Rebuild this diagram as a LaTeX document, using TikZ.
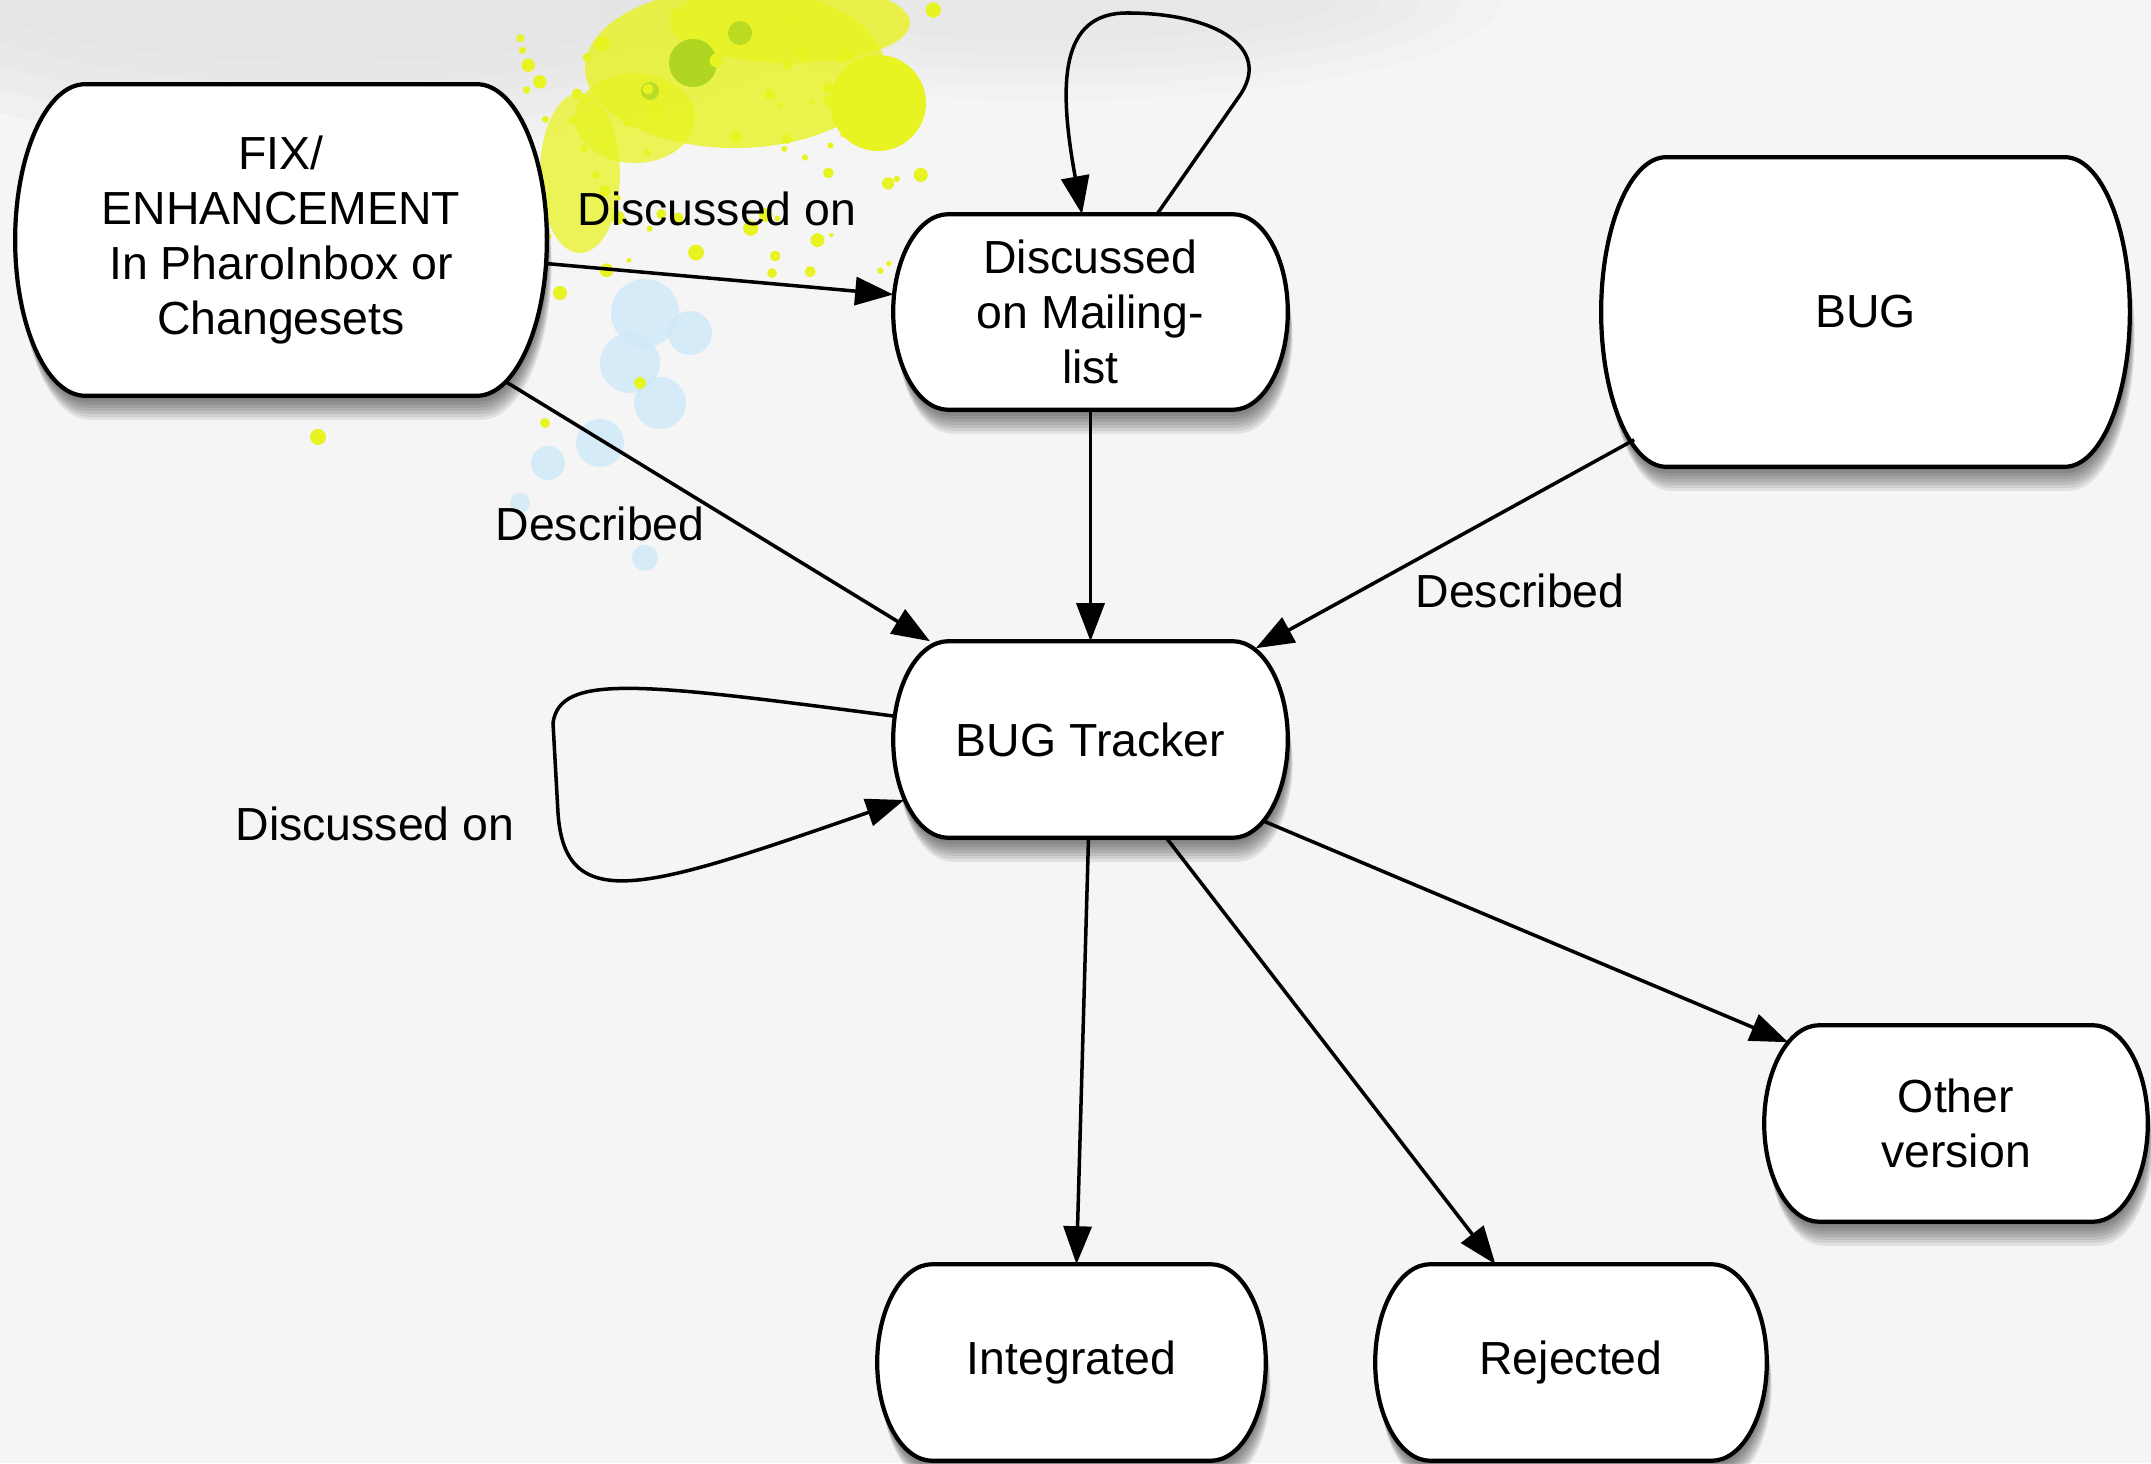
\documentclass[tikz,border=0pt]{standalone}
\usepackage{fontspec}
\setmainfont{Liberation Sans}
\usetikzlibrary{arrows.meta,calc}

\pgfdeclarelayer{background}
\pgfsetlayers{background,main}

\definecolor{paperGray}{RGB}{245,245,245}
\definecolor{cloudGray}{RGB}{222,222,222}
\definecolor{splashYellow}{RGB}{232,243,34}
\definecolor{splashGreen}{RGB}{176,214,34}
\definecolor{splashBlue}{RGB}{206,233,248}

%% outline of a state: flat top and bottom, bulging sides
\newcommand{\capsulepath}[2]{%
  ($(#1.north west)+(#2,0)$) -- ($(#1.north east)+(-#2,0)$)
  .. controls ($(#1.north east)+(-0.45*#2,0)$) and ($(#1.north east)!0.45!(#1.east)$) .. (#1.east)
  .. controls ($(#1.south east)!0.45!(#1.east)$) and ($(#1.south east)+(-0.45*#2,0)$) .. ($(#1.south east)+(-#2,0)$)
  -- ($(#1.south west)+(#2,0)$)
  .. controls ($(#1.south west)+(0.45*#2,0)$) and ($(#1.south west)!0.45!(#1.west)$) .. (#1.west)
  .. controls ($(#1.north west)!0.45!(#1.west)$) and ($(#1.north west)+(0.45*#2,0)$) .. ($(#1.north west)+(#2,0)$)
  -- cycle}

\begin{document}
\begin{tikzpicture}
[x=0.01cm,y=0.01cm,
  stateDecorate/.style={rectangle,inner sep=0pt,align=center,
    font={\fontsize{13.2}{15.6}\selectfont}},
  labelDecorate/.style={inner sep=1pt,font={\fontsize{13.2}{15.6}\selectfont}},
  lineDecorate/.style={-{Triangle[length=0.38cm,width=0.28cm]},line width=1pt}]
\useasboundingbox (0,0) rectangle (2151,1463);

%% nodes or vertices
\node (fix) at (281,1223) [stateDecorate,minimum width=5.30cm,minimum height=3.10cm]
  {FIX/\\ENHANCEMENT\\In PharoInbox or\\Changesets};
\node (ml) at (1090.5,1151) [stateDecorate,minimum width=3.93cm,minimum height=1.94cm]
  {Discussed\\on Mailing-\\list};
\node (bug) at (1865.5,1151) [stateDecorate,minimum width=5.27cm,minimum height=3.08cm] {BUG};
\node (trk) at (1090.5,723.5) [stateDecorate,minimum width=3.93cm,minimum height=1.95cm] {BUG Tracker};
\node (oth) at (1956,339.5) [stateDecorate,minimum width=3.82cm,minimum height=1.95cm] {Other\\version};
\node (int) at (1071.5,100.5) [stateDecorate,minimum width=3.87cm,minimum height=1.95cm] {Integrated};
\node (rej) at (1571,100.5) [stateDecorate,minimum width=3.90cm,minimum height=1.95cm] {Rejected};

%% paper, splashes and state outlines
\begin{pgfonlayer}{background}
\fill[paperGray] (0,0) rectangle (2151,1463);
\foreach \k in {1,...,5} {
  \fill[cloudGray,opacity=0.18] (330,1463) ellipse ({300+40*\k} and {40+22*\k});
  \fill[cloudGray,opacity=0.12] (1050,1463) ellipse ({250+40*\k} and {25+15*\k});
}
\foreach \x/\y/\r in {645/1150/34, 630/1100/30, 660/1060/26, 600/1020/24, 548/1000/17,
  690/1130/22, 645/905/13, 520/960/10} {
  \fill[splashBlue,opacity=0.8] (\x,\y) circle (\r);
}
\fill[splashYellow,opacity=0.8] (735,1395) ellipse (150 and 80);
\fill[splashYellow,opacity=0.8] (790,1440) ellipse (120 and 40);
\fill[splashYellow,opacity=0.75] (580,1290) ellipse (40 and 80);
\fill[splashYellow,opacity=0.75] (635,1345) ellipse (60 and 45);
\fill[splashYellow] (878,1360) circle (48);
\fill[splashGreen] (693,1400) circle (24);
\fill[splashGreen,opacity=0.8] (740,1430) circle (12);
\fill[splashGreen,opacity=0.8] (650,1372) circle (9);
\pgfmathsetseed{11}
\foreach \k in {1,...,70} {
  \pgfmathsetmacro{\px}{520+420*rnd}
  \pgfmathsetmacro{\py}{1180+280*rnd}
  \pgfmathsetmacro{\pr}{2+6*rnd}
  \fill[splashYellow] (\px,\py) circle (\pr);
}
\foreach \x/\y/\r in {318/1026/8, 545/1040/5, 640/1080/6, 560/1170/7} {
  \fill[splashYellow] (\x,\y) circle (\r);
}
\foreach \nodename/\bulge in {fix/70, ml/55, bug/65, trk/55, oth/55, int/55, rej/55} {
  \foreach \dx/\dy in {0.6/-3, 1.2/-6, 1.8/-9, 2.4/-12, 3/-15, 3.6/-18, 4.2/-21, 4.8/-24} {
    \begin{scope}[transform canvas={shift={(\dx,\dy)}}]
      \fill[black,opacity=0.08] \capsulepath{\nodename}{\bulge};
    \end{scope}
  }
  \filldraw[fill=white,draw=black,line width=1.2pt] \capsulepath{\nodename}{\bulge};
}
\end{pgfonlayer}

%% edges or lines
\draw[lineDecorate] (fix) -- (ml);
\draw[lineDecorate] ($(fix.south east)+(-41,14)$) -- (trk);
\draw[lineDecorate] (ml) -- (trk);
\draw[lineDecorate] ($(bug.south west)+(33,27)$) -- ($(trk.north east)+(-32,-7)$);
\draw[lineDecorate] ($(ml.north)+(66.5,0)$) -- (1238,1365)
  .. controls (1275,1415) and (1215,1450) .. (1127,1450)
  .. controls (1060,1450) and (1058,1380) .. ($(ml.north)+(-8.5,0)$);
\draw[lineDecorate] ($(trk.west)+(0,23.5)$)
  .. controls (640,780) and (560,790) .. (553,740) -- (558,650)
  .. controls (565,545) and (650,575) .. ($(trk.west)+(11,-60.5)$);
\draw[lineDecorate] ($(trk.south)+(-2,0)$) -- ($(int.north)+(5,0)$);
\draw[lineDecorate] (trk) -- (rej);
\draw[lineDecorate] ($(trk.south east)+(-25,17)$) -- ($(oth.north west)+(24,-17)$);

%% edge labels
\node (lblDiscA) at (717,1254) [labelDecorate] {Discussed on};
\node (lblDescA) at (600,939) [labelDecorate] {Described};
\node (lblDescB) at (1520,872) [labelDecorate] {Described};
\node (lblDiscB) at (375,639) [labelDecorate] {Discussed on};
\end{tikzpicture}
\end{document}
